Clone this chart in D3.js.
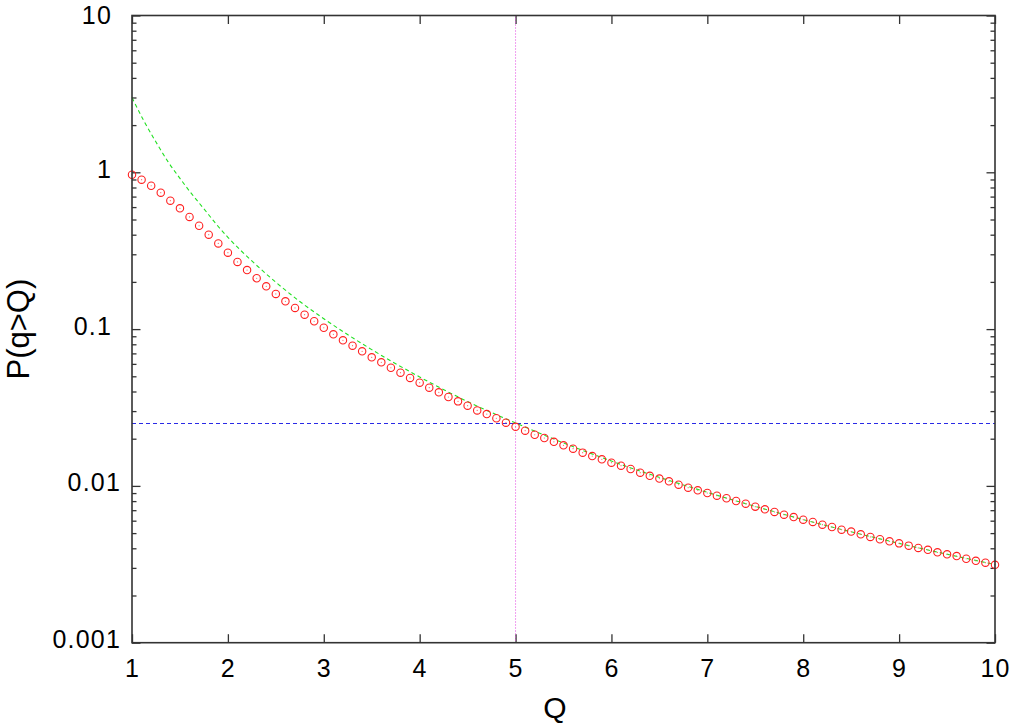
<!DOCTYPE html>
<html>
<head>
<meta charset="utf-8">
<script src="https://cdn.jsdelivr.net/npm/d3@7"></script>
<style>
  html, body { margin: 0; padding: 0; background: #fff; }
  svg { display: block; }
  text { font-family: "Liberation Sans", Arial, Helvetica, sans-serif; fill: #000; }
</style>
</head>
<body>
<svg id="chart" width="1012" height="726"></svg>
<script>
// ---------- data ----------
const qValues = [1.0,1.1,1.2,1.3,1.4,1.5,1.6,1.7,1.8,1.9,
  2.0,2.1,2.2,2.3,2.4,2.5,2.6,2.7,2.8,2.9,
  3.0,3.1,3.2,3.3,3.4,3.5,3.6,3.7,3.8,3.9,
  4.0,4.1,4.2,4.3,4.4,4.5,4.6,4.7,4.8,4.9,
  5.0,5.1,5.2,5.3,5.4,5.5,5.6,5.7,5.8,5.9,
  6.0,6.1,6.2,6.3,6.4,6.5,6.6,6.7,6.8,6.9,
  7.0,7.1,7.2,7.3,7.4,7.5,7.6,7.7,7.8,7.9,
  8.0,8.1,8.2,8.3,8.4,8.5,8.6,8.7,8.8,8.9,
  9.0,9.1,9.2,9.3,9.4,9.5,9.6,9.7,9.8,9.9,10.0];
const pValues = [0.965,0.897,0.821,0.741,0.659,0.589,0.519,0.456,0.400,0.352,
  0.307,0.268,0.238,0.211,0.1875,0.1675,0.1504,0.1364,0.1236,0.1122,
  0.102,0.0926,0.0848,0.0784,0.0722,0.0661,0.0614,0.0567,0.0527,0.0488,
  0.0455,0.0423,0.0395,0.0369,0.0346,0.0325,0.0303,0.0287,0.0270,0.0253,
  0.0238,0.0225,0.0212,0.0202,0.0191,0.01815,0.01727,0.0163,0.0155,0.01477,
  0.01406,0.01345,0.01282,0.01214,0.01160,0.01113,0.01070,0.01018,0.00974,0.00937,
  0.00901,0.00866,0.00834,0.00801,0.00770,0.00737,0.00709,0.00682,0.00655,0.00633,
  0.00609,0.00589,0.00566,0.00547,0.00526,0.00511,0.00491,0.00473,0.00457,0.00443,
  0.00430,0.00416,0.00402,0.00391,0.00377,0.00366,0.00357,0.00343,0.00333,0.00324,0.00314];

const fitQ = [1.0,1.125,1.25,1.375,1.5,1.625,1.75,1.875,2.0,2.25,2.5,2.75,3.0,3.5,4.0,4.5,5.0,5.5,6.0,7.0,8.0,9.0,10.0];
const fitP = [3.0,2.12,1.56,1.17,0.915,0.725,0.585,0.47,0.385,0.272,0.199,0.150,0.1165,0.074,0.0495,0.0345,0.0252,0.0188,0.0144,0.0091,0.0061,0.0043,0.00315];

const refQ = 5;       // vertical dotted line
const refP = 0.025;   // horizontal dashed line

const xTickValues = [1,2,3,4,5,6,7,8,9,10];
const xTickLabels = ["1","2","3","4","5","6","7","8","9","10"];
const yTickValues = [0.001,0.01,0.1,1,10];
const yTickLabels = ["0.001","0.01","0.1","1","10"];
const yMinorMultipliers = [2,3,4,5,6,7,8,9];

const xTitle = "Q";
const yTitle = "P(q>Q)";

// ---------- layout ----------
const W = 1012, H = 726;
const L = 132, R = 995, T = 15.5, B = 642.7;

const svg = d3.select("#chart");
svg.append("rect").attr("width", W).attr("height", H).attr("fill", "#fff");

const x = d3.scaleLinear().domain([1, 10]).range([L, R]);
const y = d3.scaleLog().domain([0.001, 10]).range([B, T]);

const frameColor = "#333";
const labelFont = '"Liberation Sans", Arial, sans-serif';

const yMinor = [];
yTickValues.slice(0, -1).forEach(d => yMinorMultipliers.forEach(m => yMinor.push(d * m)));

function styleAxis(g) {
  g.select(".domain").remove();
  g.selectAll(".tick line").attr("stroke", frameColor).attr("stroke-width", 1.3);
}

// bottom axis (ticks inward)
const gB = svg.append("g").attr("transform", `translate(0,${B})`)
  .call(d3.axisBottom(x).tickValues(xTickValues).tickSize(-8.5).tickSizeOuter(0)
    .tickFormat((d, i) => xTickLabels[i]));
styleAxis(gB);
gB.selectAll(".tick text").attr("y", 34).attr("dy", 0).attr("font-size", 25)
  .style("letter-spacing", "1.2px")
  .style("font-family", labelFont).attr("fill", "#000");

// top axis
const gT = svg.append("g").attr("transform", `translate(0,${T})`)
  .call(d3.axisTop(x).tickValues(xTickValues).tickSize(-8.5).tickFormat(""));
styleAxis(gT);

// left axis major
const gL = svg.append("g").attr("transform", `translate(${L},0)`)
  .call(d3.axisLeft(y).tickValues(yTickValues).tickSize(-8.5)
    .tickFormat((d, i) => yTickLabels[i]));
styleAxis(gL);
gL.selectAll(".tick text")
  .attr("x", (d, i) => yTickLabels[i].length >= 4 ? -11 : -20)
  .attr("dy", (d, i) => i === yTickLabels.length - 1 ? 8 : 5)
  .attr("font-size", 25)
  .style("letter-spacing", "1.2px")
  .style("font-family", labelFont).attr("fill", "#000");

const gLm = svg.append("g").attr("transform", `translate(${L},0)`)
  .call(d3.axisLeft(y).tickValues(yMinor).tickSize(-4.5).tickFormat(""));
styleAxis(gLm);

// right axis
const gR = svg.append("g").attr("transform", `translate(${R},0)`)
  .call(d3.axisRight(y).tickValues(yTickValues).tickSize(-8.5).tickFormat(""));
styleAxis(gR);
const gRm = svg.append("g").attr("transform", `translate(${R},0)`)
  .call(d3.axisRight(y).tickValues(yMinor).tickSize(-4.5).tickFormat(""));
styleAxis(gRm);

// reference lines
svg.append("line")
  .attr("x1", x(1)).attr("x2", x(10)).attr("y1", y(refP)).attr("y2", y(refP))
  .attr("stroke", "#2a2ae6").attr("stroke-width", 1).attr("stroke-dasharray", "4,3");
svg.append("line")
  .attr("x1", x(refQ)).attr("x2", x(refQ)).attr("y1", T).attr("y2", B)
  .attr("stroke", "#e040e0").attr("stroke-width", 1).attr("stroke-dasharray", "1,2");

// fit curve
const fitData = fitQ.map((q, i) => ({ q, p: fitP[i] }));
svg.append("path")
  .datum(fitData)
  .attr("fill", "none")
  .attr("stroke", "#22e022")
  .attr("stroke-width", 1.1)
  .attr("stroke-dasharray", "4,3")
  .attr("d", d3.line().x(d => x(d.q)).y(d => y(d.p)).curve(d3.curveMonotoneX));

// data points
const pts = qValues.map((q, i) => ({ q, p: pValues[i] }));
const gP = svg.append("g");
gP.selectAll("circle.pt").data(pts).join("circle")
  .attr("class", "pt")
  .attr("cx", d => x(d.q)).attr("cy", d => y(d.p)).attr("r", 3.7)
  .attr("fill", "none").attr("stroke", "#ff2020").attr("stroke-width", 1.1);
gP.selectAll("circle.dot").data(pts).join("circle")
  .attr("class", "dot")
  .attr("cx", d => x(d.q)).attr("cy", d => y(d.p)).attr("r", 0.6)
  .attr("fill", "#ff6060");

// frame
svg.append("rect")
  .attr("x", L).attr("y", T).attr("width", R - L).attr("height", B - T)
  .attr("fill", "none").attr("stroke", frameColor).attr("stroke-width", 1.6);

// titles
svg.append("text")
  .attr("x", 555).attr("y", 718)
  .attr("text-anchor", "middle").attr("font-size", 30)
  .text(xTitle);
svg.append("text")
  .attr("transform", `translate(29,${(T + B) / 2}) rotate(-90)`)
  .attr("text-anchor", "middle").attr("font-size", 31)
  .text(yTitle);
</script>
</body>
</html>
